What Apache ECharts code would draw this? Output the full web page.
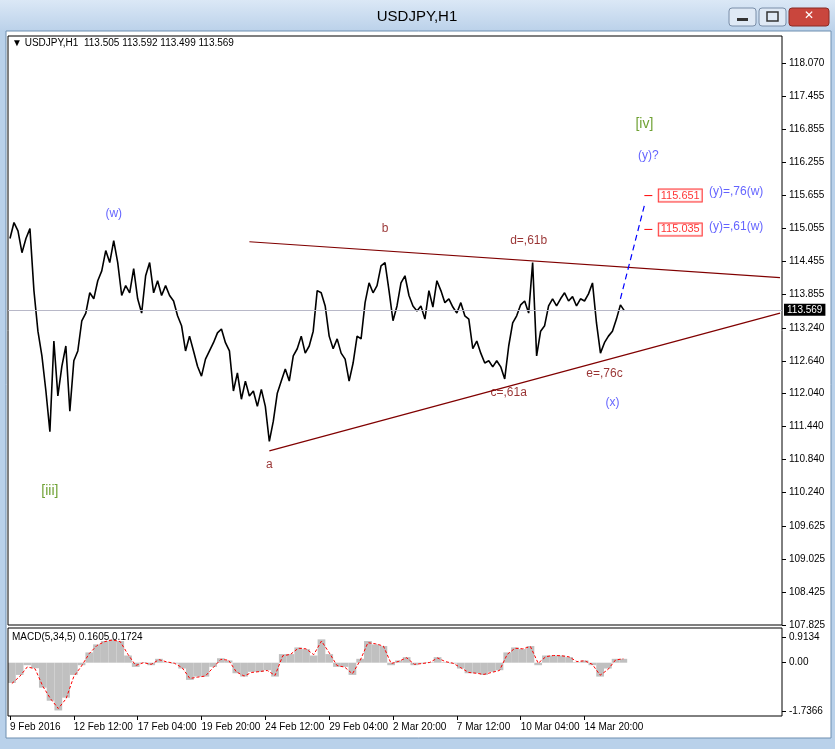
<!DOCTYPE html>
<html>
<head>
<meta charset="utf-8">
<script src="https://cdn.jsdelivr.net/npm/echarts@6/dist/echarts.min.js"></script>
<style>
  html, body { margin: 0; padding: 0; background: #b9d1ea; }
  #chart { width: 835px; height: 749px; }
</style>
</head>
<body>
<div id="chart"></div>
<script>
// Hourly closes / swings, one point every ~4px of the original chart
const PRICE = [
  114.87, 115.16, 115.01, 114.61, 114.87, 115.05, 113.92, 113.18, 112.73, 112.09,
  111.35, 113.00, 112.00, 112.54, 112.91, 111.72, 112.64, 112.82, 113.37, 113.51,
  113.88, 113.77, 114.10, 114.28, 114.65, 114.43, 114.83, 114.43, 113.83, 114.01,
  113.88, 114.32, 113.77, 113.51, 114.19, 114.43, 113.88, 114.10, 113.83, 114.01,
  113.83, 113.73, 113.46, 113.28, 112.82, 113.09, 112.82, 112.54, 112.36, 112.67,
  112.82, 112.97, 113.15, 113.22, 112.97, 112.82, 112.09, 112.42, 111.94, 112.27,
  112.00, 112.09, 111.81, 112.12, 111.81, 111.17, 111.54, 112.05, 112.27, 112.49,
  112.27, 112.73, 112.86, 113.09, 112.78, 112.91, 113.18, 113.92, 113.88, 113.64,
  113.09, 112.86, 113.04, 112.78, 112.67, 112.27, 112.60, 113.09, 113.04, 113.70,
  114.06, 113.88, 114.01, 114.37, 114.43, 113.92, 113.37, 113.64, 114.06, 114.19,
  113.83, 113.64, 113.55, 113.64, 113.40, 113.92, 113.62, 114.10, 113.92, 113.70,
  113.77, 113.62, 113.51, 113.70, 113.46, 113.40, 112.86, 113.00, 112.78, 112.60,
  112.64, 112.53, 112.64, 112.53, 112.31, 112.91, 113.33, 113.46, 113.66, 113.73,
  113.51, 114.43, 112.73, 113.18, 113.28, 113.64, 113.77, 113.64, 113.77, 113.88,
  113.73, 113.81, 113.64, 113.77, 113.73, 113.86, 114.06, 113.33, 112.78, 112.97,
  113.09, 113.18, 113.40, 113.66, 113.55
];
const SLOTS = 194;
const DATE_LABELS = ['9 Feb 2016', '12 Feb 12:00', '17 Feb 04:00', '19 Feb 20:00', '24 Feb 12:00',
  '29 Feb 04:00', '2 Mar 20:00', '7 Mar 12:00', '10 Mar 04:00', '14 Mar 20:00'];
const PRICE_TICKS = [118.070, 117.455, 116.855, 116.255, 115.655, 115.055, 114.455, 113.855,
  113.240, 112.640, 112.040, 111.440, 110.840, 110.240, 109.625, 109.025, 108.425, 107.825];
const LAST = 113.569;

const MACD_HIST = [
  -0.73, -0.44, -0.09, -0.2, -0.9, -1.37, -1.72, -1.26, -0.44, -0.09,
  0.37, 0.66, 0.78, 0.84, 0.78, 0.26, -0.15, 0.02, -0.09, 0.14,
  0.02, -0.03, -0.21, -0.62, -0.5, -0.5, -0.15, 0.16, 0.08, -0.38,
  -0.5, -0.33, -0.33, -0.27, -0.5, 0.31, 0.31, 0.55, 0.49, 0.26,
  0.84, 0.31, -0.15, -0.15, -0.44, 0.14, 0.78, 0.66, 0.6, -0.09,
  0.08, 0.2, -0.09, -0.03, 0.02, 0.2, 0.02, -0.03, -0.21, -0.38,
  -0.38, -0.44, -0.33, -0.27, 0.37, 0.55, 0.49, 0.6, -0.09, 0.26,
  0.26, 0.26, 0.2, 0.02, 0.08, -0.09, -0.5, -0.21, 0.14, 0.14
];
const MACD_SIGNAL = [
  -0.75, -0.5, -0.15, -0.22, -0.85, -1.3, -1.65, -1.3, -0.5, -0.12,
  0.33, 0.62, 0.76, 0.82, 0.76, 0.3, -0.1, 0.0, -0.06, 0.11,
  0.03, -0.02, -0.18, -0.57, -0.52, -0.48, -0.18, 0.12, 0.09, -0.33,
  -0.48, -0.35, -0.32, -0.28, -0.46, 0.25, 0.3, 0.52, 0.5, 0.29,
  0.78, 0.36, -0.1, -0.16, -0.4, 0.08, 0.72, 0.68, 0.6, -0.03,
  0.05, 0.18, -0.06, -0.03, 0.01, 0.17, 0.04, -0.02, -0.18, -0.35,
  -0.38, -0.42, -0.35, -0.28, 0.3, 0.52, 0.5, 0.58, -0.02, 0.22,
  0.26, 0.25, 0.21, 0.04, 0.07, -0.06, -0.45, -0.25, 0.1, 0.14
];
const MACD_SLOTS = 100;
const MACD_TICKS = [0.9134, 0.00, -1.7366];

// triangle, target leg and annotation texts: [slot index, price]
const UPPER_LINE = [[60, 114.81], [193, 114.155]];
const LOWER_LINE = [[65, 111.00], [193, 113.51]];
const TARGET_LEG = [[153, 113.77], [159, 115.47]];
const LEVELS = [115.651, 115.035];
const NOTE_TEXT = ['(w)', 'b', 'd=,61b', 'c=,61a', 'e=,76c', '(x)', 'a', '[iii]', '[iv]', '(y)?', '(y)=,76(w)', '(y)=,61(w)'];
const NOTE_X = [25.6, 94, 130, 124.6, 148.9, 150.6, 65.2, 9.5, 159.1, 159.6, 181.7, 181.7];
const NOTE_Y = [115.33, 115.05, 114.83, 112.05, 112.40, 111.87, 110.75, 110.27, 116.95, 116.37, 115.73, 115.09];
const NOTE_KIND = ['blue', 'red', 'red', 'red', 'red', 'blue', 'red', 'green', 'green', 'blue', 'blue', 'blue'];
const KIND_COLOR = { blue: '#3c3cff', red: '#800000', green: '#4b8a00' };

const cats = Array.from({ length: SLOTS }, (_, i) => (i % 16 === 0 && DATE_LABELS[i / 16]) || '');
const macdCats = Array.from({ length: MACD_SLOTS }, (_, i) => i);
const FONT = 'Liberation Sans';

const chart = echarts.init(document.getElementById('chart'));

const option = {
  animation: false,
  backgroundColor: '#b9d1ea',
  textStyle: { fontFamily: FONT },
  graphic: [
    { type: 'rect', shape: { x: 0, y: 0, width: 835, height: 30 },
      style: { fill: new echarts.graphic.LinearGradient(0, 0, 0, 1, [
        { offset: 0, color: '#dbe8f6' }, { offset: 1, color: '#bcd2ea' }]) }, z: -10 },
    { type: 'rect', shape: { x: 6, y: 31, width: 825, height: 707 },
      style: { fill: '#ffffff', stroke: '#6f8fb0', lineWidth: 1 }, z: -9 },
    { type: 'text', x: 417, y: 9, style: { text: 'USDJPY,H1', font: '15px ' + FONT, fill: '#000', align: 'center' } },
    { type: 'rect', shape: { x: 729, y: 8, width: 27, height: 18, r: 3 },
      style: { fill: '#dfe9f5', stroke: '#7a8ea8' } },
    { type: 'rect', shape: { x: 759, y: 8, width: 27, height: 18, r: 3 },
      style: { fill: '#dfe9f5', stroke: '#7a8ea8' } },
    { type: 'rect', shape: { x: 789, y: 8, width: 40, height: 18, r: 3 },
      style: { fill: '#c9463d', stroke: '#8a2a24' } },
    { type: 'text', x: 809, y: 10, style: { text: '✕', font: 'bold 12px DejaVu Sans', fill: '#fff', align: 'center' } },
    { type: 'rect', shape: { x: 737, y: 18, width: 11, height: 3 }, style: { fill: '#333' } },
    { type: 'rect', shape: { x: 767, y: 12, width: 11, height: 9 }, style: { fill: 'none', stroke: '#333', lineWidth: 1.5 } },
    { type: 'rect', shape: { x: 8, y: 36, width: 774, height: 589 }, style: { fill: 'none', stroke: '#000', lineWidth: 1 }, z: 5 },
    { type: 'rect', shape: { x: 8, y: 628, width: 774, height: 88 }, style: { fill: 'none', stroke: '#000', lineWidth: 1 }, z: 5 },
    { type: 'text', x: 12, y: 38, style: { text: '▼ USDJPY,H1  113.505 113.592 113.499 113.569', font: '10px ' + FONT, fill: '#000' } },
    { type: 'text', x: 12, y: 632, style: { text: 'MACD(5,34,5) 0.1605 0.1724', font: '10px ' + FONT, fill: '#000' }, z: 10 }
  ],
  grid: [
    { left: 8, right: 53, top: 36, height: 589 },
    { left: 8, right: 53, top: 628, height: 88 }
  ],
  xAxis: [
    { type: 'category', gridIndex: 0, data: cats, position: 'bottom', offset: 91,
      axisLine: { show: false },
      axisTick: { show: true, alignWithLabel: true, length: 4, lineStyle: { color: '#000' },
        interval: (i, v) => v !== '' },
      axisLabel: { interval: 0, align: 'left', fontSize: 10, color: '#000', margin: 6,
        fontFamily: FONT } },
    { type: 'category', gridIndex: 1, data: macdCats, show: false }
  ],
  yAxis: [
    { type: 'value', gridIndex: 0, position: 'right', min: 107.825, max: 118.56,
      axisLine: { show: false }, splitLine: { show: false },
      axisTick: { show: true, customValues: PRICE_TICKS, length: 4, lineStyle: { color: '#000' } },
      axisLabel: { customValues: PRICE_TICKS, formatter: v => v.toFixed(3), fontSize: 10,
        color: '#000', margin: 7, fontFamily: FONT } },
    { type: 'value', gridIndex: 1, position: 'right', min: -1.92, max: 1.25,
      axisLine: { show: false }, splitLine: { show: false },
      axisTick: { show: true, customValues: MACD_TICKS, length: 4, lineStyle: { color: '#000' } },
      axisLabel: { customValues: MACD_TICKS, formatter: v => (v === 0 ? '0.00' : v.toFixed(4)),
        fontSize: 10, color: '#000', margin: 7, fontFamily: FONT } }
  ],
  series: [
    { type: 'line', xAxisIndex: 0, yAxisIndex: 0, data: PRICE, symbol: 'none',
      lineStyle: { color: '#000', width: 1.6 }, z: 4,
      markLine: { symbol: 'none', silent: true,
        lineStyle: { color: '#b8b8c8', type: 'solid', width: 1 },
        label: { position: 'end', formatter: LAST.toFixed(3), backgroundColor: '#000', color: '#fff',
          fontSize: 10, padding: [1, 3], distance: 2, fontFamily: FONT },
        data: [{ yAxis: LAST }] } },
    { type: 'line', data: UPPER_LINE, symbol: 'none', lineStyle: { color: '#800000', width: 1.2 } },
    { type: 'line', data: LOWER_LINE, symbol: 'none', lineStyle: { color: '#800000', width: 1.2 } },
    { type: 'line', data: TARGET_LEG, symbol: 'none', lineStyle: { color: '#0000ff', width: 1.2, type: [6, 4] } },
    ...LEVELS.map(lv => ({ type: 'line', data: [[159, lv], [161.3, lv]], symbol: 'none',
      lineStyle: { color: '#ff0000', width: 1 } })),
    { type: 'scatter', symbolSize: 0, z: 6,
      data: LEVELS.map(lv => [168, lv]),
      label: { show: true, position: 'inside', formatter: p => p.value[1].toFixed(3),
        color: '#ff0000', fontSize: 11, borderColor: '#ff0000', borderWidth: 1,
        backgroundColor: '#fff', padding: [1, 2, 0, 2], fontFamily: FONT } },
    { type: 'scatter', symbolSize: 0, z: 6,
      data: NOTE_TEXT.map((t, i) => ({ name: t, value: [NOTE_X[i], NOTE_Y[i]],
        label: { color: KIND_COLOR[NOTE_KIND[i]], fontSize: NOTE_KIND[i] === 'green' ? 14 : 12 } })),
      label: { show: true, position: 'inside', formatter: p => p.name, fontFamily: FONT } },
    { type: 'bar', xAxisIndex: 1, yAxisIndex: 1, data: MACD_HIST, barCategoryGap: 0,
      itemStyle: { color: '#c0c0c0' } },
    { type: 'line', xAxisIndex: 1, yAxisIndex: 1, data: MACD_SIGNAL, symbol: 'none',
      lineStyle: { color: '#ff0000', width: 1, type: [3, 2] } }
  ]
};

chart.setOption(option);
</script>
</body>
</html>
